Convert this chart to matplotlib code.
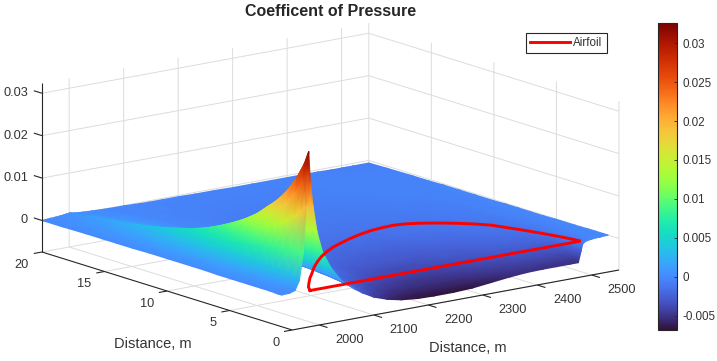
import numpy as np
import matplotlib
matplotlib.use("Agg")
import matplotlib.pyplot as plt
from mpl_toolkits.mplot3d import proj3d

plt.rcParams['font.family'] = ['Liberation Sans', 'DejaVu Sans']

W, H = 717, 361
GREY = '#333333'

x_nodes = [1950, 1965, 1975, 1983, 1990, 1995, 1998, 2000, 2003, 2008, 2015, 2025, 2040, 2060,
           2085, 2100, 2120, 2145, 2170, 2200, 2230, 2265, 2300, 2335, 2370, 2400, 2430, 2455,
           2480, 2495, 2500, 2503, 2508, 2520, 2535, 2550]
y_nodes = [0.85, 1.2, 1.8, 2.5, 3, 3.5, 4.2, 5, 6, 7, 8, 9, 10, 11.5, 12.7, 14, 15.2, 16.5, 18.5, 20]

# pressure, one list per y position
cp_y085 = [0, .0001, .0005, .0027, .0088, .0200, .0285, .0327,
           .0255, .0195, .0135, .0085, .0045, .0008, -.0018, -.0031, -.0045, -.0056, -.0063, -.0067,
           -.0068, -.0068, -.0066, -.0061, -.0056, -.0053, -.0052, -.0052, -.0052, -.0052, -.0026,
           -.0010, -.0005, -.0002, -.0001, 0]
cp_y12 = [0, .0002, .0007, .0030, .0090, .0185, .0260, .0295,
          .0245, .0190, .0135, .0085, .0045, .0010, -.0014, -.0027, -.0040, -.0050, -.0057, -.0061,
          -.0062, -.0062, -.0060, -.0055, -.0051, -.0048, -.0047, -.0047, -.0046, -.0044, -.0025,
          -.0011, -.0006, -.0002, -.0001, 0]
cp_y18 = [.0001, .0003, .0010, .0033, .0088, .0168, .0225, .0257,
          .0222, .0178, .0130, .0084, .0046, .0012, -.0011, -.0021, -.0033, -.0043, -.0049, -.0053,
          -.0054, -.0054, -.0052, -.0048, -.0044, -.0041, -.0040, -.0039, -.0038, -.0034, -.0022,
          -.0012, -.0007, -.0003, -.0001, 0]
cp_y25 = [.0001, .0004, .0013, .0036, .0085, .0150, .0195, .0222,
          .0198, .0164, .0124, .0082, .0046, .0014, -.0008, -.0017, -.0028, -.0037, -.0042, -.0046,
          -.0047, -.0047, -.0045, -.0042, -.0038, -.0035, -.0033, -.0031, -.0030, -.0026, -.0019,
          -.0012, -.0008, -.0003, -.0001, 0]
cp_y3 = [.0001, .0005, .0015, .0037, .0083, .0140, .0178, .0202,
         .0184, .0155, .0120, .0081, .0046, .0015, -.0006, -.0015, -.0025, -.0033, -.0039, -.0042,
         -.0043, -.0043, -.0041, -.0038, -.0034, -.0031, -.0029, -.0027, -.0026, -.0022, -.0017,
         -.0012, -.0008, -.0003, -.0002, -.0001]
cp_y35 = [.0001, .0006, .0017, .0038, .0080, .0130, .0162, .0185,
          .0170, .0145, .0115, .0080, .0046, .0016, -.0005, -.0013, -.0022, -.0029, -.0035, -.0038,
          -.0039, -.0039, -.0037, -.0034, -.0031, -.0028, -.0026, -.0024, -.0022, -.0019, -.0015,
          -.0011, -.0008, -.0004, -.0002, -.0001]
cp_y42 = [.0001, .0007, .0019, .0039, .0076, .0118, .0145, .0165,
          .0153, .0132, .0107, .0076, .0045, .0017, -.0003, -.0011, -.0019, -.0025, -.0031, -.0034,
          -.0035, -.0035, -.0033, -.0030, -.0027, -.0025, -.0022, -.0020, -.0018, -.0016, -.0013,
          -.0010, -.0008, -.0004, -.0002, -.0001]
cp_y5 = [.0001, .0008, .0021, .0040, .0072, .0104, .0125, .0142,
         .0133, .0118, .0098, .0072, .0044, .0018, -.0002, -.0009, -.0016, -.0022, -.0027, -.0029,
         -.0030, -.0030, -.0029, -.0026, -.0024, -.0021, -.0019, -.0017, -.0015, -.0013, -.0011,
         -.0009, -.0007, -.0004, -.0002, -.0001]
cp_y6 = [.0001, .0009, .0022, .0040, .0066, .0091, .0108, .0120,
         .0113, .0103, .0087, .0066, .0041, .0018, 0, -.0007, -.0013, -.0019, -.0023, -.0025,
         -.0026, -.0026, -.0025, -.0023, -.0020, -.0018, -.0016, -.0014, -.0012, -.0011, -.0009,
         -.0008, -.0006, -.0004, -.0002, -.0002]
cp_y7 = [.0002, .0010, .0023, .0039, .0060, .0079, .0092, .0102,
         .0097, .0089, .0076, .0058, .0038, .0018, .0001, -.0005, -.0011, -.0016, -.0019, -.0021,
         -.0022, -.0022, -.0021, -.0019, -.0017, -.0015, -.0013, -.0012, -.0010, -.0009, -.0008,
         -.0007, -.0006, -.0004, -.0003, -.0002]
cp_y8 = [.0002, .0010, .0022, .0036, .0054, .0069, .0079, .0086,
         .0082, .0076, .0066, .0051, .0035, .0017, .0002, -.0004, -.0009, -.0013, -.0016, -.0018,
         -.0019, -.0019, -.0018, -.0016, -.0014, -.0013, -.0011, -.0010, -.0009, -.0008, -.0007,
         -.0006, -.0005, -.0004, -.0003, -.0002]
cp_y9 = [.0002, .0010, .0021, .0033, .0048, .0060, .0067, .0072,
         .0069, .0064, .0056, .0045, .0031, .0016, .0002, -.0003, -.0008, -.0011, -.0014, -.0015,
         -.0016, -.0016, -.0015, -.0014, -.0012, -.0011, -.0010, -.0009, -.0008, -.0007, -.0006,
         -.0006, -.0005, -.0004, -.0003, -.0002]
cp_y10 = [.0002, .0010, .0019, .0029, .0041, .0051, .0057, .0061,
          .0059, .0055, .0048, .0039, .0027, .0014, .0002, -.0003, -.0007, -.0010, -.0012, -.0013,
          -.0014, -.0014, -.0013, -.0012, -.0011, -.0010, -.0009, -.0008, -.0007, -.0006, -.0006,
          -.0005, -.0005, -.0004, -.0003, -.0003]
cp_y115 = [.0002, .0009, .0017, .0025, .0034, .0041, .0045, .0048,
           .0046, .0043, .0038, .0032, .0022, .0012, .0002, -.0002, -.0005, -.0008, -.0010, -.0011,
           -.0011, -.0011, -.0011, -.0010, -.0009, -.0008, -.0007, -.0007, -.0006, -.0005, -.0005,
           -.0005, -.0004, -.0004, -.0003, -.0003]
cp_y127 = [.0001, .0008, .0014, .0021, .0028, .0034, .0037, .0039,
           .0037, .0035, .0031, .0026, .0018, .0010, .0002, -.0001, -.0004, -.0007, -.0008, -.0009,
           -.0009, -.0009, -.0009, -.0009, -.0008, -.0007, -.0006, -.0006, -.0005, -.0005, -.0005,
           -.0004, -.0004, -.0004, -.0003, -.0003]
cp_y14 = [.0001, .0007, .0012, .0017, .0022, .0027, .0029, .0031,
          .0030, .0028, .0025, .0021, .0015, .0008, .0001, -.0001, -.0003, -.0005, -.0007, -.0008,
          -.0008, -.0008, -.0008, -.0007, -.0007, -.0006, -.0006, -.0005, -.0005, -.0004, -.0004,
          -.0004, -.0004, -.0004, -.0003, -.0003]
cp_y152 = [.0001, .0006, .0010, .0014, .0018, .0021, .0023, .0024,
           .0023, .0022, .0019, .0016, .0011, .0006, .0001, -.0001, -.0003, -.0005, -.0006, -.0007,
           -.0007, -.0007, -.0007, -.0006, -.0006, -.0006, -.0005, -.0005, -.0005, -.0004, -.0004,
           -.0004, -.0004, -.0004, -.0004, -.0004]
cp_y165 = [.0001, .0005, .0008, .0011, .0014, .0016, .0018, .0019,
           .0018, .0017, .0015, .0012, .0008, .0004, 0, -.0001, -.0003, -.0004, -.0005, -.0006,
           -.0006, -.0006, -.0006, -.0006, -.0006, -.0005, -.0005, -.0005, -.0004, -.0004, -.0004,
           -.0004, -.0004, -.0004, -.0004, -.0004]
cp_y185 = [0, .0003, .0004, .0006, .0008, .0009, .0010, .0011,
           .0010, .0009, .0008, .0006, .0003, .0001, -.0001, -.0002, -.0003, -.0003, -.0004, -.0004,
           -.0005, -.0005, -.0005, -.0005, -.0005, -.0005, -.0005, -.0005, -.0005, -.0005, -.0005,
           -.0005, -.0005, -.0005, -.0005, -.0005]
cp_y20 = [0, .00015, .0002, .0003, .0004, .0005, .0005, .0006,
          .0005, .0004, .0003, .0002, .0001, 0, -.0001, -.0001, -.0002, -.0003, -.0003, -.0003,
          -.0004, -.0004, -.0005, -.0005, -.0005, -.0005, -.0005, -.0005, -.0006, -.0006, -.0006,
          -.0006, -.0006, -.0006, -.0006, -.0006]

airfoil_x = [2000, 2011, 2025, 2046, 2066, 2092, 2115, 2139, 2163, 2188, 2210, 2239, 2266, 2293, 2319, 2337,
             2354, 2374, 2393, 2408, 2422, 2437, 2451, 2460, 2470, 2479, 2487, 2492, 2496, 2000]
airfoil_y = [0.75, 1.35, 1.93, 2.76, 3.47, 4.42, 5.17, 5.89, 6.51, 7.08, 7.47, 7.95, 8.33, 8.62, 8.77, 8.81,
             8.71, 8.41, 7.99, 7.58, 7.15, 6.59, 5.98, 5.14, 4.19, 3.21, 2.23, 1.47, 0.71, 0.75]

x_ticks = [2000, 2100, 2200, 2300, 2400, 2500]
y_ticks = [0, 5, 10, 15, 20]
z_ticks = [0, 0.01, 0.02, 0.03]
z_labels = ['0', '0.01', '0.02', '0.03']
cb_ticks = [-0.005, 0, 0.005, 0.01, 0.015, 0.02, 0.025, 0.03]
cb_labels = ['-0.005', '0', '0.005', '0.01', '0.015', '0.02', '0.025', '0.03']

XLIM = (1950, 2550)
YLIM = (0, 20)
ZLIM = (-0.00744, 0.0324)
CLIM = (-0.00686, 0.03265)


def main():
    fig = plt.figure(figsize=(W / 100, H / 100), dpi=100)

    # square axes, the box itself is placed by the view transform
    side = 589.6
    left, top = 27.7, -110.3
    pos = [left / W, (H - top - side) / H, side / W, side / H]

    ax = fig.add_axes(pos, projection='3d', proj_type='ortho')
    ax.set_xlim(*XLIM)
    ax.set_ylim(*YLIM)
    ax.set_zlim(*ZLIM)
    ax.set_box_aspect((412, 411, 174))
    ax.view_init(elev=13.84, azim=-127.5)
    ax.set_xticks(x_ticks)
    ax.set_yticks(y_ticks)
    ax.set_zticks(z_ticks)
    ax.set_xticklabels([])
    ax.set_yticklabels([])
    ax.set_zticklabels([])
    ax.patch.set_alpha(0)
    for axis in (ax.xaxis, ax.yaxis, ax.zaxis):
        axis.pane.set_facecolor((1, 1, 1, 0))
        axis.pane.set_edgecolor((1, 1, 1, 0))
        axis.line.set_color((1, 1, 1, 0))
        axis._axinfo['grid']['color'] = '#dcdcdc'
        axis._axinfo['grid']['linewidth'] = 0.7
        axis._axinfo['tick']['inward_factor'] = 0
        axis._axinfo['tick']['outward_factor'] = 0

    M = ax.get_proj()

    def project(xs, ys, zs):
        xs, ys, zs = np.asarray(xs, float), np.asarray(ys, float), np.asarray(zs, float)
        px, py, _ = proj3d.proj_transform(xs.ravel(), ys.ravel(), zs.ravel(), M)
        return np.reshape(px, xs.shape), np.reshape(py, xs.shape)

    # flat axes on top, same frame as the 3d one
    ov = fig.add_axes(pos, facecolor='none')
    ov.set_xlim(-0.095, 0.09)
    ov.set_ylim(-0.095, 0.09)
    ov.axis('off')

    Z = np.array([cp_y085, cp_y12, cp_y18, cp_y25, cp_y3, cp_y35, cp_y42, cp_y5, cp_y6, cp_y7, cp_y8,
                  cp_y9, cp_y10, cp_y115, cp_y127, cp_y14, cp_y152, cp_y165, cp_y185, cp_y20])
    X, Y = np.meshgrid(x_nodes, y_nodes)
    PX, PY = project(X, Y, Z)
    # far corner first so nearer cells paint over it
    mesh = ov.pcolormesh(PX[::-1, ::-1], PY[::-1, ::-1], Z[::-1, ::-1], shading='gouraud',
                         cmap='turbo', vmin=CLIM[0], vmax=CLIM[1], zorder=2)
    ov.set_xlim(-0.095, 0.09)
    ov.set_ylim(-0.095, 0.09)

    ax_px, ax_py = project(airfoil_x, airfoil_y, np.zeros(len(airfoil_x)))
    line, = ov.plot(ax_px, ax_py, color='#ff0000', lw=2.1, label='Airfoil', zorder=5,
                    solid_joinstyle='miter')

    def seg(p0, p1, lw=0.8):
        xs, ys = project([p0[0], p1[0]], [p0[1], p1[1]], [p0[2], p1[2]])
        ov.plot(xs, ys, color='#262626', lw=lw, zorder=3, solid_capstyle='butt', clip_on=False)

    seg((XLIM[0], 0, ZLIM[0]), (XLIM[1], 0, ZLIM[0]))
    seg((XLIM[0], 0, ZLIM[0]), (XLIM[0], 20, ZLIM[0]))
    seg((XLIM[0], 20, ZLIM[0]), (XLIM[0], 20, ZLIM[1]))

    def label(p, text, dx, dy, ha):
        xs, ys = project([p[0]], [p[1]], [p[2]])
        ov.annotate(text, (xs[0], ys[0]), xytext=(dx * 0.72, dy * 0.72), textcoords='offset points',
                    ha=ha, va='center', fontsize=9.2, color=GREY, zorder=6)

    for v in x_ticks:
        seg((v, 0, ZLIM[0]), (v, -0.65, ZLIM[0]))
        label((v, 0, ZLIM[0]), str(v), 30, -15, 'center')
    for v in y_ticks:
        seg((XLIM[0], v, ZLIM[0]), (XLIM[0] - 15, v, ZLIM[0]))
        label((XLIM[0], v, ZLIM[0]), str(v), -13, -13, 'right')
    for v, t in zip(z_ticks, z_labels):
        seg((XLIM[0], 20, v), (XLIM[0], 20.65, v))
        label((XLIM[0], 20, v), t, -14, 0, 'right')

    fig.text(331 / W, 1 - 11.5 / H, 'Coefficent of Pressure', ha='center', va='center',
             fontsize=11.5, fontweight='bold', color='#262626')
    fig.text(152.5 / W, 1 - 344 / H, 'Distance, m', ha='center', va='center', fontsize=10.5, color=GREY)
    fig.text(467.7 / W, 1 - 348 / H, 'Distance, m', ha='center', va='center', fontsize=10.5, color=GREY)

    leg = ov.legend(handles=[line], loc='upper left', bbox_to_anchor=(526 / W, 1 - 33.3 / H),
                    bbox_transform=fig.transFigure, fontsize=8.4, frameon=True, fancybox=False,
                    framealpha=1, edgecolor='#262626', handlelength=3.4, handletextpad=0.3,
                    borderpad=0.35, borderaxespad=0)
    leg.get_frame().set_linewidth(0.8)
    for t in leg.get_texts():
        t.set_color(GREY)

    cax = fig.add_axes([657.7 / W, 1 - 330 / H, 19.3 / W, 307.3 / H])
    cb = fig.colorbar(mesh, cax=cax)
    cb.set_ticks(cb_ticks, labels=cb_labels)
    cb.ax.tick_params(direction='in', length=2.5, width=0.6, labelsize=8.4, labelcolor=GREY,
                      color='#262626', pad=4)
    cb.outline.set_edgecolor('#262626')
    cb.outline.set_linewidth(0.8)

    fig.savefig('out.png', dpi=100)


if __name__ == "__main__":
    main()
